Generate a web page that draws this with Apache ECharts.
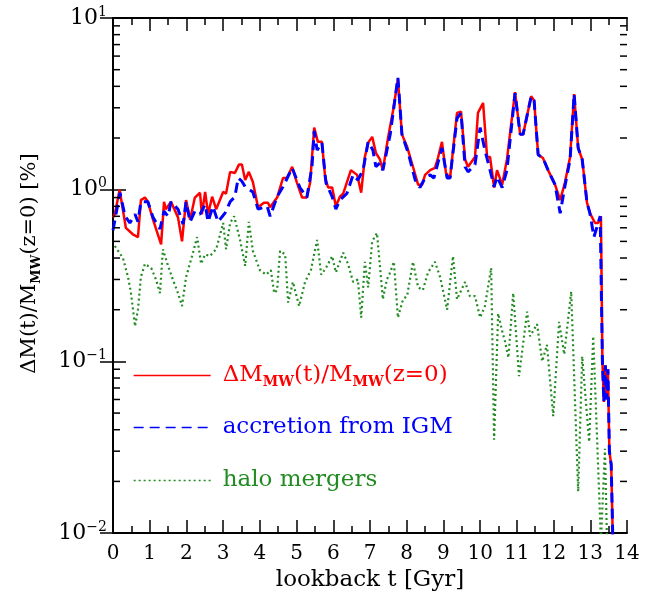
<!DOCTYPE html>
<html lang="en">
<head>
    <meta charset="UTF-8">
    <title>Mass growth</title>
    <script src="https://cdn.jsdelivr.net/npm/echarts@6/dist/echarts.min.js"></script>
</head>
<body style="margin:0;background:#fff;">
<div id="main" style="width: 657px;height:597px;"></div>
<script type="text/javascript">
    // lookback time [Gyr] and mass change [%]
    var totalT = [0.00, 0.05, 0.18, 0.35, 0.54, 0.68, 0.76, 0.87, 0.95, 1.09, 1.31, 1.39, 1.44, 1.58, 1.77, 1.88, 1.99, 2.10,
        2.23, 2.37, 2.42, 2.51, 2.59, 2.70, 2.81, 3.00, 3.08, 3.19, 3.32, 3.43, 3.51, 3.60, 3.70, 3.81, 3.95, 4.11,
        4.22, 4.28, 4.47, 4.63, 4.74, 4.88, 5.01, 5.15, 5.28, 5.37, 5.48, 5.58, 5.69, 5.78, 5.86, 5.97, 6.07, 6.18,
        6.27, 6.48, 6.65, 6.76, 6.86, 6.95, 7.06, 7.16, 7.27, 7.35, 7.49, 7.63, 7.76, 7.87, 8.01, 8.17, 8.31, 8.42,
        8.50, 8.64, 8.77, 8.85, 8.96, 9.07, 9.18, 9.37, 9.48, 9.59, 9.67, 9.86, 9.94, 10.08, 10.19, 10.27, 10.38,
        10.46, 10.60, 10.73, 10.95, 11.09, 11.17, 11.39, 11.47, 11.58, 11.71, 11.85, 12.04, 12.18, 12.31, 12.45,
        12.56, 12.67, 12.78, 12.91, 12.99, 13.13, 13.21, 13.29, 13.33, 13.37, 13.41, 13.45, 13.48, 13.52, 13.57, 13.62];
    var totalV = [0.69, 0.72, 1.0, 0.6, 0.55, 0.53, 0.87, 0.9, 0.85, 0.67, 0.48, 0.85, 0.77, 0.85, 0.69, 0.5, 0.87, 0.67,
        0.9, 0.96, 0.72, 0.97, 0.72, 0.91, 0.77, 0.97, 0.95, 1.27, 1.25, 1.4, 1.4, 1.14, 1.27, 1.11, 0.79, 0.84,
        0.84, 0.79, 0.9, 1.17, 1.17, 1.36, 1.1, 0.9, 0.9, 1.1, 2.3, 1.9, 1.9, 1.17, 1.03, 1.03, 0.8, 0.91,
        0.95, 1.3, 1.22, 0.96, 1.55, 1.88, 2.03, 1.64, 1.5, 1.3, 2.0, 2.9, 4.4, 2.1, 1.78, 1.36, 1.07, 1.07,
        1.22, 1.3, 1.34, 1.53, 1.9, 1.25, 1.17, 2.8, 2.85, 1.5, 1.36, 1.55, 2.8, 3.2, 1.55, 1.55, 1.03,
        1.3, 1.07, 1.5, 3.7, 2.1, 2.1, 3.5, 3.3, 1.6, 1.53, 1.3, 1.07, 0.87, 1.1, 1.55,
        3.6, 1.75, 1.5, 0.84, 0.73, 0.64, 0.64, 0.70, 0.1, 0.058, 0.095, 0.06, 0.09, 0.03, 0.025, 0.008];

    var accT = [0.00, 0.05, 0.19, 0.33, 0.46, 0.60, 0.68, 0.76, 0.95, 1.09, 1.28, 1.39, 1.50, 1.58, 1.77, 1.91, 1.99, 2.10,
        2.23, 2.37, 2.51, 2.59, 2.72, 2.86, 3.05, 3.19, 3.32, 3.41, 3.51, 3.60, 3.81, 3.95, 4.20, 4.28, 4.47, 4.63,
        4.88, 5.09, 5.28, 5.42, 5.48, 5.56, 5.69, 5.80, 5.97, 6.07, 6.18, 6.37, 6.54, 6.67, 6.81, 6.95, 7.08, 7.16,
        7.27, 7.35, 7.55, 7.76, 7.87, 8.04, 8.23, 8.36, 8.50, 8.64, 8.74, 8.96, 9.10, 9.18, 9.37, 9.48, 9.59, 9.67,
        9.86, 10.00, 10.13, 10.27, 10.38, 10.46, 10.60, 10.73, 10.95, 11.09, 11.17, 11.39, 11.47, 11.58, 11.71,
        11.85, 12.04, 12.18, 12.31, 12.45, 12.56, 12.67, 12.78, 12.91, 12.99, 13.10, 13.27, 13.33, 13.37, 13.41,
        13.45, 13.48, 13.52, 13.57, 13.62];
    var accV = [0.58, 0.57, 0.96, 0.7, 0.64, 0.72, 0.65, 0.85, 0.85, 0.69, 0.59, 0.75, 0.7, 0.85, 0.77, 0.63, 0.85, 0.65,
        0.75, 0.72, 0.82, 0.65, 0.8, 0.65, 0.73, 0.85, 0.91, 1.17, 1.12, 1.04, 0.97, 0.77, 0.8, 0.7, 0.91, 1.04,
        1.34, 1.03, 0.9, 1.36, 2.2, 1.7, 1.88, 1.1, 0.91, 0.77, 0.87, 0.95, 1.22, 1.14, 1.3, 1.9, 1.7, 1.36,
        1.43, 1.3, 2.1, 4.5, 2.1, 1.64, 1.14, 1.03, 1.17, 1.22, 1.17, 1.75, 1.17, 1.17, 2.6, 2.8, 1.36, 1.27,
        1.4, 2.3, 1.7, 1.3, 1.04, 1.19, 1.03, 1.3, 3.65, 2.1, 2.1, 3.5, 3.3, 1.6, 1.53,
        1.3, 1.07, 0.73, 1.05, 1.5, 3.6, 1.75, 1.5, 0.84, 0.73, 0.53, 0.70, 0.1, 0.058, 0.095,
        0.06, 0.09, 0.03, 0.025, 0.008];

    var mergT = [0.05, 0.27, 0.41, 0.49, 0.60, 0.68, 0.76, 0.87, 1.04, 1.17, 1.28, 1.36, 1.50, 1.63, 1.77, 1.88, 1.99, 2.18,
        2.29, 2.40, 2.51, 2.64, 2.81, 3.00, 3.08, 3.19, 3.30, 3.46, 3.60, 3.70, 3.81, 4.00, 4.17, 4.30, 4.39, 4.47,
        4.55, 4.69, 4.77, 4.90, 5.07, 5.23, 5.39, 5.56, 5.67, 5.80, 5.97, 6.07, 6.27, 6.40, 6.54, 6.67, 6.76, 6.86,
        6.95, 7.06, 7.19, 7.27, 7.35, 7.46, 7.55, 7.65, 7.76, 7.90, 8.01, 8.17, 8.31, 8.44, 8.58, 8.77, 8.91, 9.10,
        9.26, 9.37, 9.59, 9.72, 9.86, 10.00, 10.13, 10.30, 10.38, 10.49, 10.60, 10.68, 10.77, 10.90, 11.06, 11.28,
        11.36, 11.55, 11.69, 11.82, 11.99, 12.15, 12.29, 12.48, 12.67, 12.78, 12.97, 13.08, 13.29, 13.40, 13.46];
    var mergV = [0.47, 0.4, 0.31, 0.25, 0.16, 0.2, 0.31, 0.37, 0.35, 0.3, 0.25, 0.45, 0.36, 0.3, 0.25, 0.21, 0.31, 0.43,
        0.53, 0.37, 0.42, 0.41, 0.45, 0.64, 0.45, 0.64, 0.7, 0.51, 0.36, 0.65, 0.44, 0.34, 0.32, 0.34, 0.25, 0.26,
        0.44, 0.42, 0.22, 0.29, 0.21, 0.29, 0.34, 0.51, 0.32, 0.35, 0.41, 0.33, 0.43, 0.37, 0.29, 0.3, 0.18, 0.38,
        0.27, 0.5, 0.56, 0.36, 0.23, 0.3, 0.33, 0.38, 0.18, 0.23, 0.24, 0.38, 0.27, 0.26, 0.33, 0.38, 0.31, 0.2,
        0.41, 0.23, 0.29, 0.24, 0.24, 0.18, 0.21, 0.35, 0.035, 0.19, 0.15, 0.13, 0.105, 0.25, 0.082, 0.195,
        0.14, 0.165, 0.1, 0.125, 0.048, 0.17, 0.11, 0.255, 0.0175, 0.107, 0.034, 0.14, 0.009, 0.031, 0.008];

    // minor ticks of the log axis (2..9 in every decade)
    var yMinorTicks = [0.02, 0.03, 0.04, 0.05, 0.06, 0.07, 0.08, 0.09,
        0.2, 0.3, 0.4, 0.5, 0.6, 0.7, 0.8, 0.9,
        2, 3, 4, 5, 6, 7, 8, 9];

    var serif = "DejaVu Serif";

    function pairs(xs, ys) {
        var out = [];
        for (var i = 0; i < xs.length; i++) {
            out.push([xs[i], ys[i]]);
        }
        return out;
    }

    var myChart = echarts.init(document.getElementById("main"));

    var xAxisBase = {
        type: "value",
        min: 0,
        max: 14,
        interval: 1,
        axisLine: {lineStyle: {color: "#000", width: 2}},
        axisTick: {inside: true, length: 13, lineStyle: {color: "#000", width: 1.5}},
        minorTick: {show: true, splitNumber: 2, length: 7, lineStyle: {color: "#000", width: 1.5}},
        splitLine: {show: false}
    };
    var yAxisBase = {
        type: "log",
        logBase: 10,
        min: 0.01,
        max: 10,
        axisLine: {show: true, lineStyle: {color: "#000", width: 2}},
        axisTick: {inside: true, length: 13, lineStyle: {color: "#000", width: 1.5}},
        splitLine: {show: false}
    };

    var legendText = {
        fontFamily: serif,
        fontSize: 23,
        rich: {
            g: {width: 7, lineHeight: 28},
            r: {fontFamily: serif, fontSize: 23, color: "#ff0000", lineHeight: 28},
            rs: {fontFamily: serif, fontSize: 14, color: "#ff0000", fontWeight: "bold", verticalAlign: "bottom", lineHeight: 28},
            b: {fontFamily: serif, fontSize: 23, color: "#0000ff", lineHeight: 28},
            gr: {fontFamily: serif, fontSize: 23, color: "#228b22", lineHeight: 28}
        }
    };

    function oneLegend(name, top, fmt) {
        return {
            data: [name],
            left: 133,
            top: top,
            padding: 0,
            itemWidth: 77,
            itemHeight: 14,
            selectedMode: false,
            itemStyle: {opacity: 0},
            lineStyle: {width: 1.3},
            textStyle: legendText,
            formatter: fmt
        };
    }

    var option = {
        animation: false,
        backgroundColor: "#fff",
        grid: {left: 113, right: 30, top: 18, bottom: 62},
        legend: [
            oneLegend("total", 364, "{g|}{r|ΔM}{rs|MW}{r|(t)/M}{rs|MW}{r|(z=0)}"),
            oneLegend("igm", 416, "{g|}{b|accretion from IGM}"),
            oneLegend("mergers", 469, "{g|}{gr|halo mergers}")
        ],
        xAxis: [
            Object.assign({}, xAxisBase, {
                position: "bottom",
                name: "lookback t [Gyr]",
                nameLocation: "middle",
                nameGap: 35,
                nameTextStyle: {fontFamily: serif, fontSize: 23, color: "#000"},
                axisLabel: {fontFamily: serif, fontSize: 20, color: "#000", margin: 11}
            }),
            Object.assign({}, xAxisBase, {position: "top", axisLabel: {show: false}})
        ],
        yAxis: [
            Object.assign({}, yAxisBase, {
                position: "left",
                name: "{a|ΔM(t)/M}{s|MW}{a|(z=0) [%]}",
                nameLocation: "middle",
                nameRotate: 90,
                nameGap: 70,
                nameTextStyle: {
                    padding: [0, 0, 0, 24],
                    rich: {
                        a: {fontFamily: serif, fontSize: 21, color: "#000", lineHeight: 26},
                        s: {fontFamily: serif, fontSize: 13, fontWeight: "bold", color: "#000", verticalAlign: "bottom", lineHeight: 26}
                    }
                },
                axisLabel: {
                    margin: 6,
                    formatter: function (v) {
                        var e = Math.round(Math.log10(v));
                        return "{n|10}{e|" + (e < 0 ? "\u2212" + (-e) : e) + "}";
                    },
                    rich: {
                        n: {fontFamily: serif, fontSize: 22, color: "#000", lineHeight: 26},
                        e: {fontFamily: serif, fontSize: 14, color: "#000", verticalAlign: "top", lineHeight: 26}
                    }
                }
            }),
            Object.assign({}, yAxisBase, {position: "right", axisLabel: {show: false}})
        ],
        series: [
            {
                name: "mergers",
                type: "line",
                data: pairs(mergT, mergV),
                symbol: "none",
                clip: true,
                lineStyle: {color: "#228b22", width: 2.2, type: [2, 3]},
                itemStyle: {color: "#228b22"},
                z: 2
            },
            {
                name: "total",
                type: "line",
                data: pairs(totalT, totalV),
                symbol: "none",
                clip: true,
                lineStyle: {color: "#ff0000", width: 2.5},
                itemStyle: {color: "#ff0000"},
                z: 3
            },
            {
                name: "igm",
                type: "line",
                data: pairs(accT, accV),
                symbol: "none",
                clip: true,
                lineStyle: {color: "#0000ff", width: 3, type: [10, 6]},
                itemStyle: {color: "#0000ff"},
                z: 4
            },
            {
                // log-axis minor ticks on left and right frame
                type: "custom",
                data: yMinorTicks.map(function (v) { return [0, v]; }),
                silent: true,
                z: 5,
                renderItem: function (params, api) {
                    var y = api.coord([0, api.value(1)])[1];
                    var cs = params.coordSys;
                    var st = {stroke: "#000", lineWidth: 1.5};
                    return {
                        type: "group",
                        children: [
                            {type: "line", shape: {x1: cs.x, y1: y, x2: cs.x + 7, y2: y}, style: st},
                            {type: "line", shape: {x1: cs.x + cs.width, y1: y, x2: cs.x + cs.width - 7, y2: y}, style: st}
                        ]
                    };
                }
            }
        ]
    };

    myChart.setOption(option);
</script>
</body>
</html>
